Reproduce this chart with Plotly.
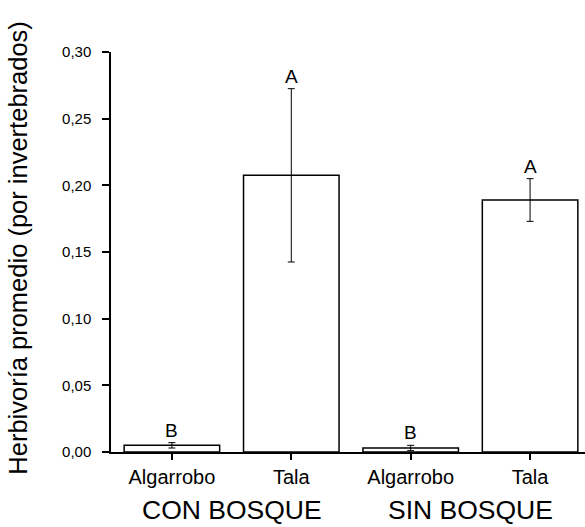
import plotly.graph_objects as go

categories = ["Algarrobo", "Tala", "Algarrobo", "Tala"]
groups = ["CON BOSQUE", "CON BOSQUE", "SIN BOSQUE", "SIN BOSQUE"]
means = [0.005, 0.2075, 0.003, 0.189]
errors = [0.002, 0.065, 0.002, 0.016]
letters = ["B", "A", "B", "A"]
y_ticks = [0.00, 0.05, 0.10, 0.15, 0.20, 0.25, 0.30]
y_title = "Herbivoría promedio (por invertebrados)"

pos = list(range(len(categories)))
font = "Liberation Sans, Arial, sans-serif"

fig = go.Figure()
fig.add_trace(go.Bar(
    x=pos, y=means, width=0.8,
    marker=dict(color="white", line=dict(color="black", width=1.5)),
    error_y=dict(type="data", array=errors, visible=True, color="black",
                 thickness=1, width=3.5),
    showlegend=False,
))

for p, m, e, l in zip(pos, means, errors, letters):
    fig.add_annotation(x=p, y=m + e, text=l, showarrow=False, yanchor="bottom",
                       yshift=0, font=dict(family=font, size=19, color="black"))

seen = []
for g in groups:
    if g not in seen:
        seen.append(g)
for g in seen:
    idx = [p for p, gg in zip(pos, groups) if gg == g]
    fig.add_annotation(x=sum(idx) / len(idx), y=0, yref="y", text=g, showarrow=False,
                       yanchor="middle", yshift=-58,
                       font=dict(family=font, size=26.5, color="black"))

fig.add_annotation(xref="paper", yref="paper", x=-0.196, y=0.511, text=y_title,
                   textangle=-90, showarrow=False, xanchor="center", yanchor="middle",
                   font=dict(family=font, size=25.5, color="black"))

fig.update_layout(
    width=585, height=527,
    margin=dict(l=111, r=0, t=52, b=75),
    paper_bgcolor="white", plot_bgcolor="white",
    font=dict(family=font, color="black"),
    separators=",.",
    bargap=0.2,
)
fig.update_xaxes(
    range=[-0.51, 3.46], tickvals=pos, ticktext=categories,
    showline=True, linecolor="black", linewidth=1.5,
    ticks="outside", ticklen=6, tickwidth=1.5, tickcolor="black",
    tickfont=dict(size=20, family=font), showgrid=False, zeroline=False,
)
fig.update_yaxes(
    range=[0, 0.30], tickvals=y_ticks, tickformat=".2f",
    showline=True, linecolor="black", linewidth=1.5,
    ticks="outside", ticklen=7, tickwidth=1.5, tickcolor="black",
    tickfont=dict(size=15, family=font), showgrid=False, zeroline=False,
    ticklabelstandoff=8,
)

fig.write_html("out.html")
